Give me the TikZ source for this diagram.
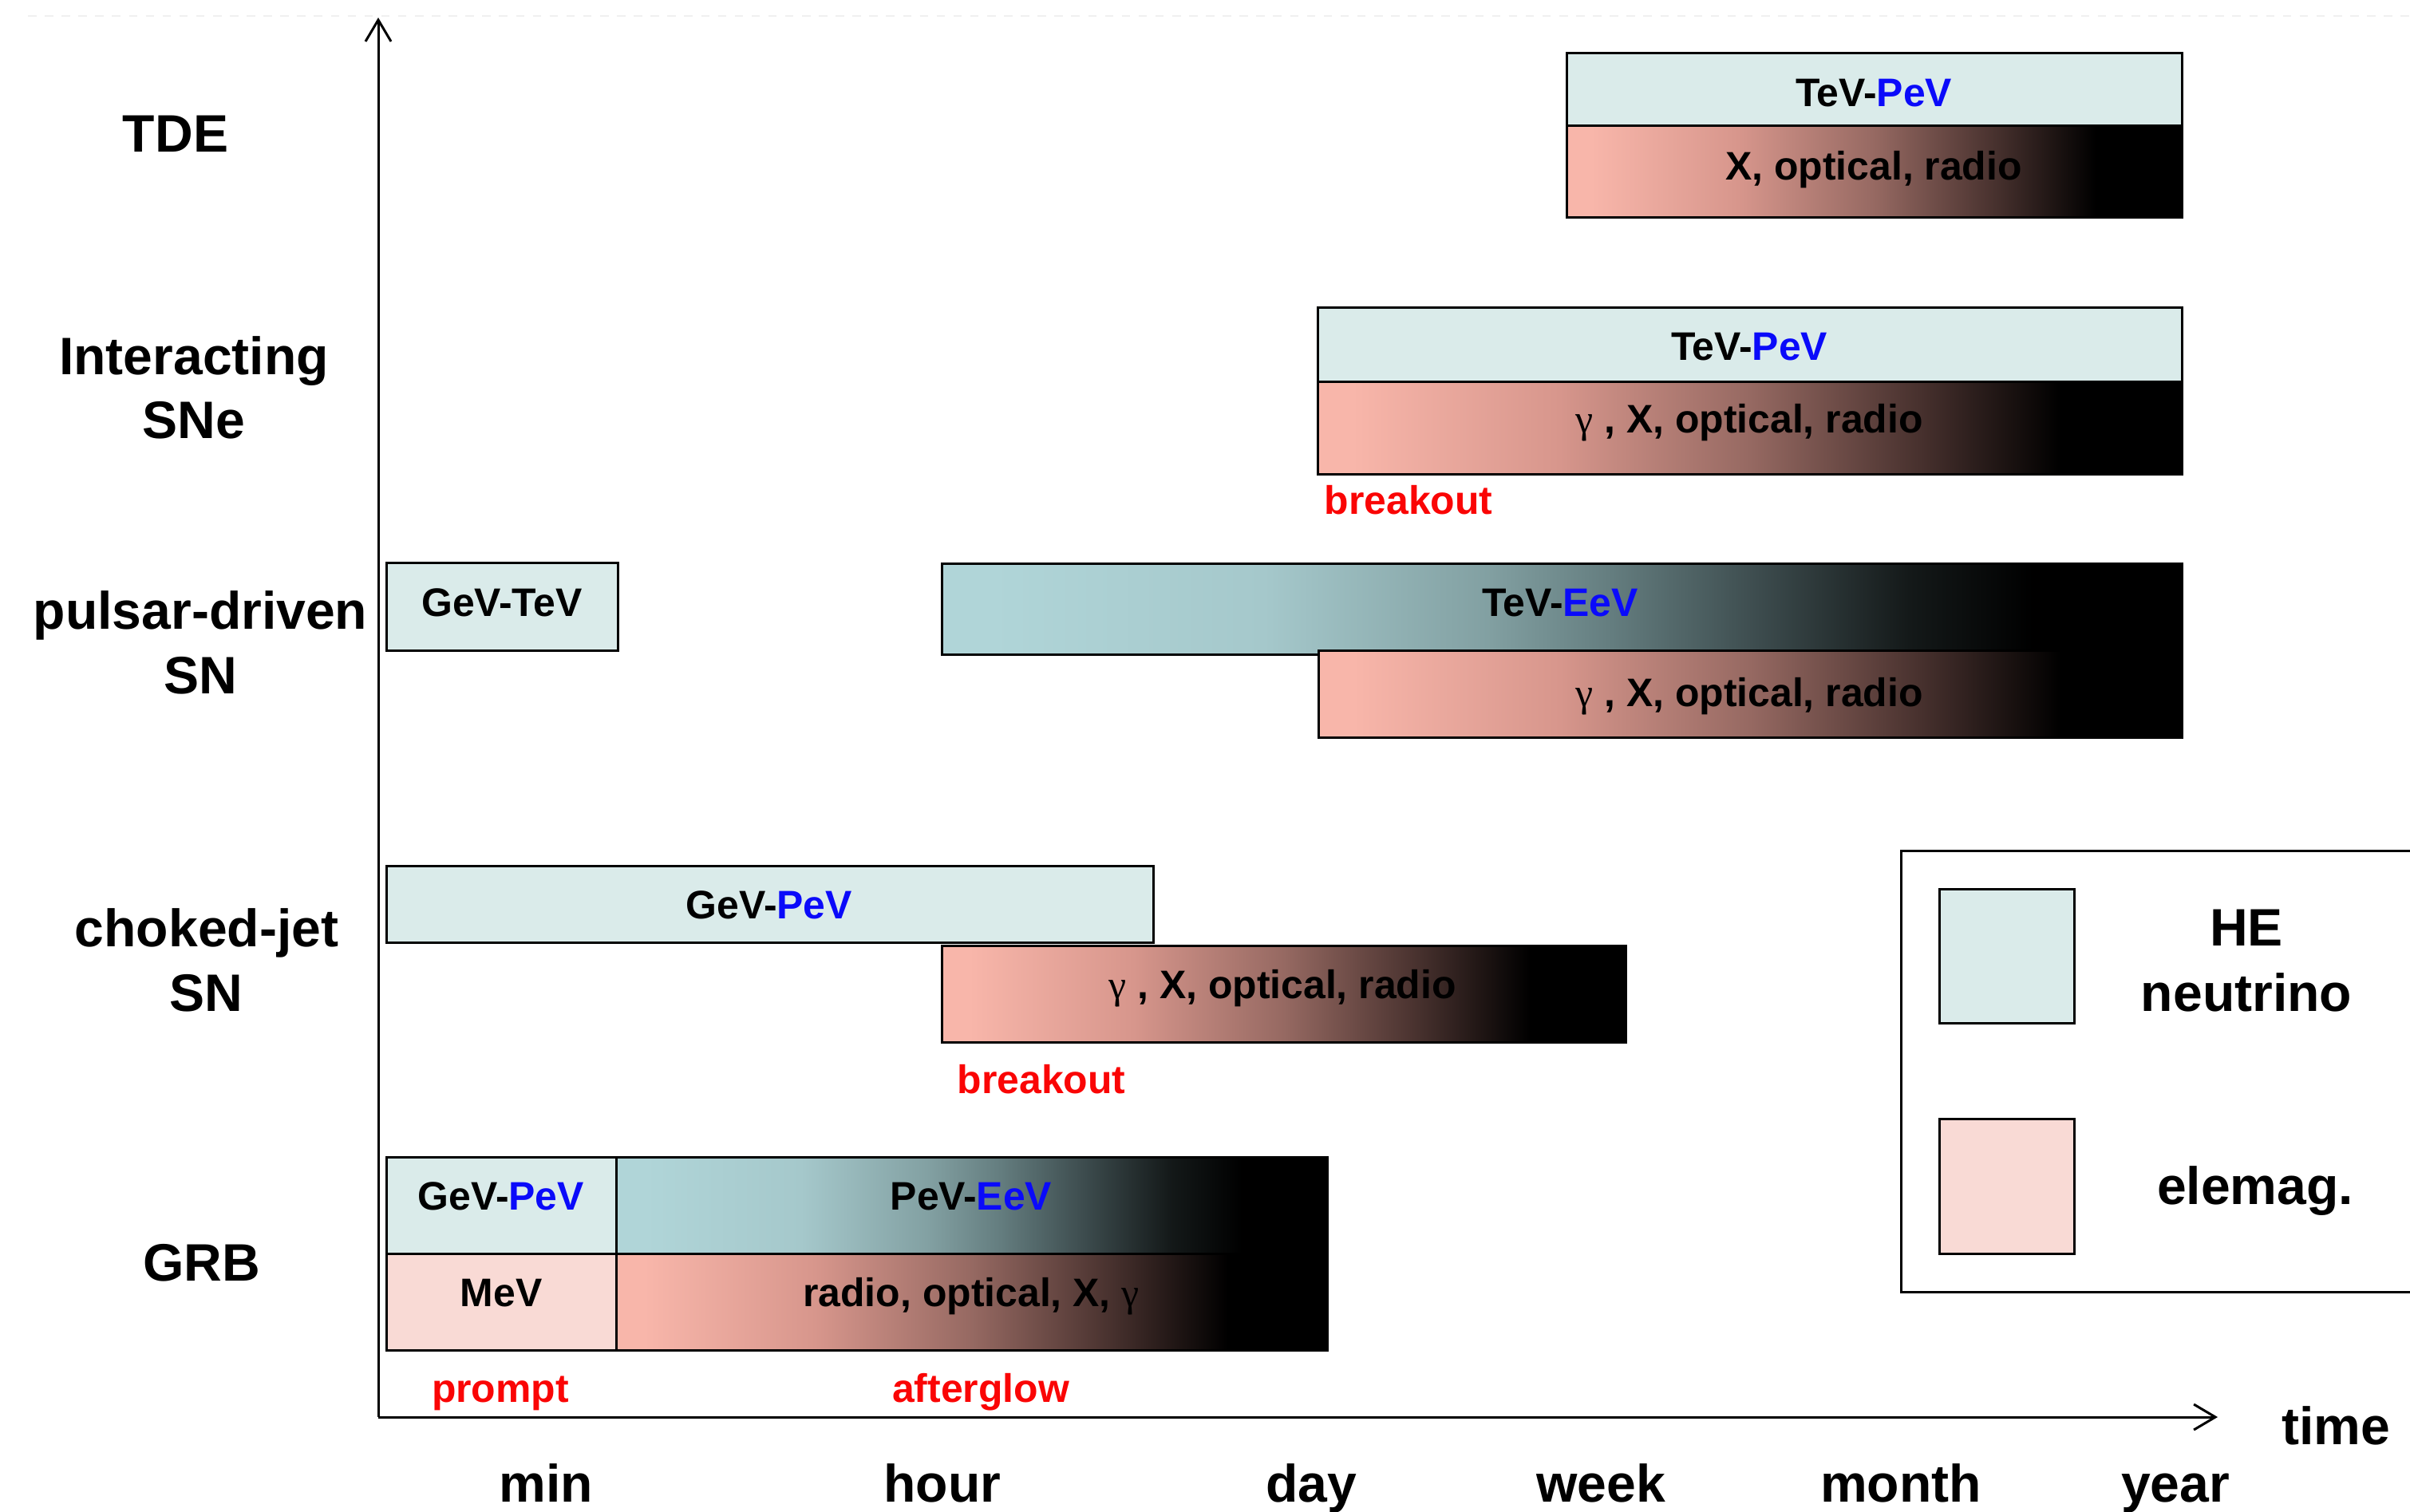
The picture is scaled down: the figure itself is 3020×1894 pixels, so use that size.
\documentclass[tikz,border=0pt]{standalone}
\usepackage{fontspec}
\setmainfont{Liberation Sans}
\newfontfamily\gfont{Liberation Serif}
\usetikzlibrary{arrows.meta}
\definecolor{nuLight}{RGB}{218,235,234}
\definecolor{emLight}{RGB}{249,218,213}
\definecolor{nuStart}{RGB}{176,213,216}
\definecolor{nuA}{RGB}{165,200,203}
\definecolor{nuB}{RGB}{130,160,162}
\definecolor{nuC}{RGB}{100,125,127}
\definecolor{nuD}{RGB}{60,75,77}
\definecolor{nuE}{RGB}{20,25,25}
\definecolor{emStart}{RGB}{248,182,170}
\definecolor{emA}{RGB}{215,150,140}
\definecolor{emB}{RGB}{150,105,98}
\definecolor{emC}{RGB}{70,48,45}
\definecolor{axblue}{RGB}{10,10,250}
\definecolor{axred}{RGB}{250,5,5}
\pgfdeclarehorizontalshading{nugrad}{100bp}{color(0bp)=(nuStart); color(27bp)=(nuStart); color(38bp)=(nuA); color(47bp)=(nuB); color(52bp)=(nuC); color(58bp)=(nuD); color(64bp)=(nuE); color(69bp)=(black); color(100bp)=(black)}
\pgfdeclarehorizontalshading{emgrad}{100bp}{color(0bp)=(emStart); color(27bp)=(emStart); color(39bp)=(emA); color(50bp)=(emB); color(60bp)=(emC); color(68bp)=(black); color(100bp)=(black)}
\newcommand\blu[1]{\textcolor{axblue}{#1}}
\newcommand\gam{{\gfont\mdseries γ}}
\begin{document}
\begin{tikzpicture}[x=0.1mm,y=-0.1mm,line width=0.3mm,
  big/.style={font=\fontsize{18.8}{22.8}\selectfont\bfseries, anchor=base, inner sep=0pt},
  small/.style={font=\fontsize{14.2}{17}\selectfont\bfseries, anchor=base, inner sep=0pt},
  redlab/.style={small, text=axred},
  nubox/.style={draw=black, fill=nuLight},
  embox/.style={draw=black, fill=emLight},
  nushade/.style={draw=black, shading=nugrad},
  emshade/.style={draw=black, shading=emgrad},
  axisarrow/.style={-{Straight Barb[length=2.7mm,width=3.2mm]}, line width=0.3mm}]
\useasboundingbox (0,0) rectangle (3020,1894);
% faint top line
\draw[black!6, dashed, line width=0.2mm] (35,20) -- (3020,20);
% axes
\coordinate (O) at (474,1776);
\coordinate (ytop) at (474,22);
\coordinate (xend) at (2779,1776);
\draw[axisarrow] (O) -- (ytop);
\draw[axisarrow] (O) -- (xend);
% row labels
\node[big] (tde) at (220,190) {TDE};
\node[big] (int1) at (243,469) {Interacting};
\node[big] (int2) at (243,549) {SNe};
\node[big] (pul1) at (251,788) {pulsar-driven};
\node[big] (pul2) at (251,869) {SN};
\node[big] (cho1) at (259,1186) {choked-jet};
\node[big] (cho2) at (258,1267) {SN};
\node[big] (grb) at (253,1605) {GRB};
% time labels
\node[big] (tmin) at (684,1882) {min};
\node[big] (thour) at (1181,1882) {hour};
\node[big] (tday) at (1643,1882) {day};
\node[big] (tweek) at (2006,1882) {week};
\node[big] (tmonth) at (2382,1882) {month};
\node[big] (tyear) at (2726,1882) {year};
\node[big] (ttime) at (2927,1810) {time};
% TDE
\filldraw[nubox] (1963,66) rectangle (2734,157);
\shadedraw[emshade] (1963,157) rectangle (2734,272);
\node[small] (tdeNu) at (2348,133) {TeV-\blu{PeV}};
\node[small] (tdeEm) at (2348,225) {X, optical, radio};
% Interacting SNe
\filldraw[nubox] (1651,385) rectangle (2734,478);
\shadedraw[emshade] (1651,478) rectangle (2734,594);
\node[small] (intNu) at (2192,451) {TeV-\blu{PeV}};
\node[small] (intEm) at (2192,542) {\gam\ , X, optical, radio};
\node[redlab] (intBr) at (1765,644) {breakout};
% pulsar-driven SN
\filldraw[nubox] (484,705) rectangle (774,815);
\node[small] (pulNu1) at (629,772) {GeV-TeV};
\shadedraw[nushade] (1180,706) rectangle (2734,820);
\node[small] (pulNu2) at (1955,772) {TeV-\blu{EeV}};
\shadedraw[emshade] (1652,815) rectangle (2734,924);
\node[small] (pulEm) at (2192,885) {\gam\ , X, optical, radio};
% choked-jet SN
\filldraw[nubox] (484,1085) rectangle (1445,1181);
\node[small] (choNu) at (964,1151) {GeV-\blu{PeV}};
\shadedraw[emshade] (1180,1185) rectangle (2037,1306);
\node[small] (choEm) at (1607,1251) {\gam\ , X, optical, radio};
\node[redlab] (choBr) at (1305,1370) {breakout};
% GRB
\filldraw[nubox] (484,1450) rectangle (772,1571);
\filldraw[embox] (484,1571) rectangle (772,1692);
\shadedraw[nushade] (772,1450) rectangle (1663,1571);
\shadedraw[emshade] (772,1571) rectangle (1663,1692);
\node[small] (grbNu1) at (628,1516) {GeV-\blu{PeV}};
\node[small] (grbEm1) at (628,1637) {MeV};
\node[small] (grbNu2) at (1217,1516) {PeV-\blu{EeV}};
\node[small] (grbEm2) at (1217,1637) {radio, optical, X, \gam};
\node[redlab] (prompt) at (627,1757) {prompt};
\node[redlab] (after) at (1229,1757) {afterglow};
% legend
\draw (3040,1066) -- (2382,1066) -- (2382,1619) -- (3040,1619);
\filldraw[nubox] (2430,1114) rectangle (2599,1282);
\filldraw[embox] (2430,1402) rectangle (2599,1571);
\node[big] (legHE) at (2815,1185) {HE};
\node[big] (legNu) at (2815,1267) {neutrino};
\node[big] (legEm) at (2826,1509) {elemag.};
\end{tikzpicture}
\end{document}
